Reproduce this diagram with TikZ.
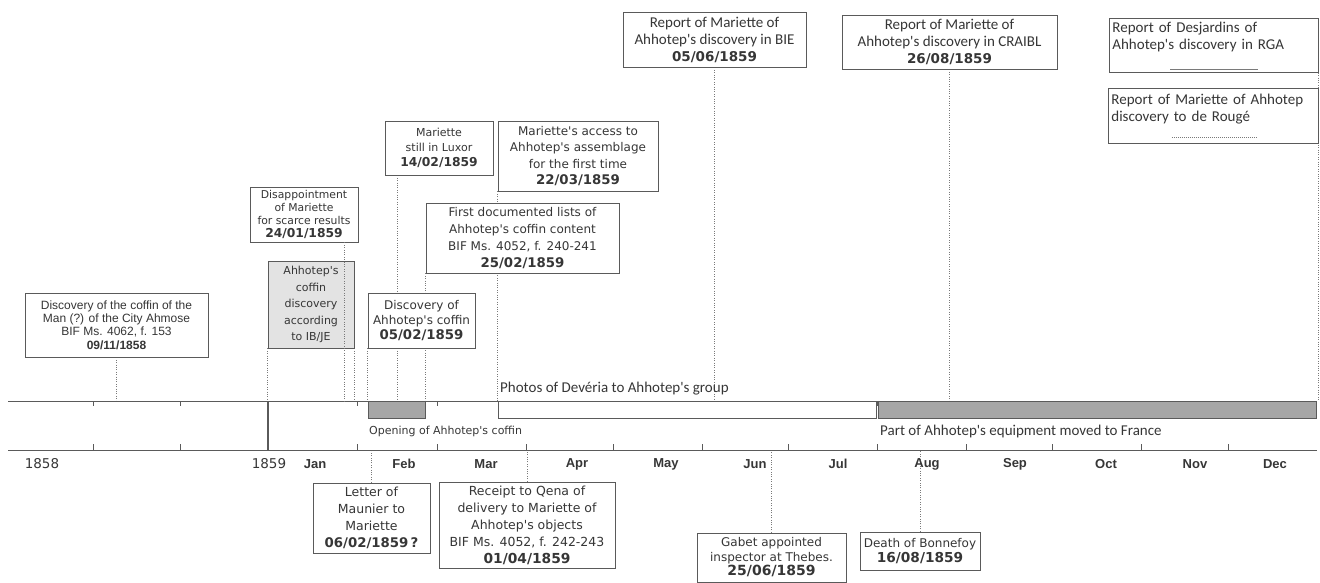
\documentclass[tikz,border=0pt]{standalone}
\usepackage{fontspec}
\setmainfont{DejaVu Sans}[Ligatures=TeXOff]
\newfontfamily\calibf{Carlito}[Ligatures=TeXOff]
\newfontfamily\arialf{Liberation Sans}
\usepackage{xcolor}
\definecolor{inkGray}{HTML}{363636}
\definecolor{lineGray}{HTML}{5A5A5A}
\definecolor{dotGray}{HTML}{7A7A7A}
\definecolor{barGray}{HTML}{A6A6A6}
\definecolor{boxFill}{HTML}{E3E3E3}
\usepackage{tikz}
\usetikzlibrary{backgrounds}
\newcommand{\evdate}[2][13.3]{{\normalfont\fontsize{#1}{#1}\selectfont\bfseries #2}}
\tikzset{
  evbox/.style={rectangle,draw=lineGray,line width=0.8pt,fill=white,text=inkGray,align=center,inner sep=1pt},
  grayevbox/.style={evbox,fill=boxFill},
  rptbox/.style={evbox,font=\calibf\fontsize{15}{17}\selectfont},
  dotline/.style={draw=dotGray,line width=0.8pt,dash pattern=on 1pt off 1.4pt},
  axisline/.style={draw=lineGray,line width=0.9pt},
  tickmark/.style={draw=lineGray,line width=0.7pt},
  bardark/.style={draw=lineGray,fill=barGray,line width=0.8pt},
  barlight/.style={draw=lineGray,fill=white,line width=0.8pt},
  barlbl/.style={anchor=west,inner sep=0pt,text=inkGray,font=\calibf\fontsize{15}{15}\selectfont},
  monthlbl/.style={text=inkGray,font=\arialf\bfseries\fontsize{13}{13}\selectfont},
  yearlbl/.style={text=inkGray,font=\fontsize{13.5}{14}\selectfont},
}

\begin{document}
\begin{tikzpicture}[x=1pt,y=-1pt]
  \useasboundingbox (0,0) rectangle (1320,583);
  \coordinate (ax) at (0,401);
  \coordinate (axl) at (0,450);
  \coordinate (d2401) at (344,401);
  \coordinate (d1402) at (397,401);

  \draw[axisline] (8,401) -- (1317,401);
  \draw[axisline] (8,450) -- (1317,450);
  \draw[axisline, line width=1.6pt] (268,401) -- (268,450);
  \foreach \x in {93,180} {%
    \draw[tickmark] (\x,401) -- ++(0,5);
    \draw[tickmark] (\x,450) -- ++(0,-6);
  }
  \foreach \dd in {31,59,90,120,151,181,212,243,273,304,334} {%
    \draw[tickmark] ({268+2.874*\dd},401) -- ++(0,5);
    \draw[tickmark] ({268+2.874*\dd},450) -- ++(0,-6);
  }

  \filldraw[bardark]  (368,401) rectangle (425,418);
  \filldraw[barlight] (498,401) rectangle (876,418);
  \filldraw[bardark]  (878,401) rectangle (1316,418);

  \node[barlbl, font=\fontsize{11}{11}\selectfont] (opening) at (369,431) {Opening of Ahhotep's coffin};
  \node[barlbl] (photos) at (500,389) {Photos of Devéria to Ahhotep's group};
  \node[barlbl] (moved) at (880,431) {Part of Ahhotep's equipment moved to France};

  \node[yearlbl] (y1858) at (42,464) {1858};
  \node[yearlbl] (y1859) at (269,464) {1859};
  \foreach \mon/\mx in {Jan/315,Feb/404,Mar/486,Apr/577,May/666,Jun/755,Jul/838,Aug/927,Sep/1015,Oct/1106,Nov/1195,Dec/1275} {%
    \node[monthlbl] (m\mon) at (\mx,464) {\mon};
  }

  \node[evbox, minimum width=183pt, minimum height=64pt, font=\arialf\fontsize{12}{13.3}\selectfont] (disc1858) at (116.5,325) {Discovery of the coffin of the\\Man (?) of the City Ahmose\\BIF Ms. 4062, f. 153\\{\bfseries 09/11/1858}};
  \node[grayevbox, minimum width=86pt, minimum height=87pt, font=\fontsize{11}{16.5}\selectfont] (ibje) at (311,304.5) {Ahhotep's\\coffin\\discovery\\according\\to IB/JE};
  \node[evbox, minimum width=108pt, minimum height=55pt, font=\fontsize{10.8}{13.3}\selectfont] (disap) at (304,214.5) {Disappointment\\of Mariette\\for scarce results\\\evdate[12.3]{24/01/1859}};
  \node[evbox, minimum width=108pt, minimum height=54pt, font=\fontsize{11}{15}\selectfont] (luxor) at (439,148) {Mariette\\still in Luxor\\\evdate[12.3]{14/02/1859}};
  \node[evbox, minimum width=107pt, minimum height=55pt, font=\fontsize{12}{15}\selectfont] (disc) at (421.5,320.5) {Discovery of\\Ahhotep's coffin\\\evdate{05/02/1859}};
  \node[evbox, minimum width=193pt, minimum height=70pt, font=\fontsize{12}{17}\selectfont] (lists) at (522.5,238) {First documented lists of\\Ahhotep's coffin content\\BIF Ms. 4052, f. 240-241\\\evdate{25/02/1859}};
  \node[evbox, minimum width=160pt, minimum height=70pt, font=\fontsize{12}{16.5}\selectfont] (access) at (578,156) {Mariette's access to\\Ahhotep's assemblage\\for the first time\\\evdate{22/03/1859}};
  \node[rptbox, minimum width=183pt, minimum height=55pt] (bie) at (714.5,39.5) {Report of Mariette of\\Ahhotep's discovery in BIE\\\evdate[13.5]{05/06/1859}};
  \node[rptbox, minimum width=215pt, minimum height=54pt] (craibl) at (949.5,42) {Report of Mariette of\\Ahhotep's discovery in CRAIBL\\\evdate[13.5]{26/08/1859}};
  \node[rptbox, anchor=north west, align=left, inner sep=3pt, text width=203pt, minimum height=54pt] (desj) at (1109,18) {Report of Desjardins of\\Ahhotep's discovery in RGA\\[3pt]\hspace*{58pt}\textcolor{dotGray}{\rule{88pt}{0.5pt}}};
  \node[rptbox, anchor=north west, align=left, inner sep=3pt, text width=204pt, minimum height=55pt] (rouge) at (1108,88) {Report of Mariette of Ahhotep\\discovery to de Rougé\\\hspace*{59pt}\textcolor{dotGray}{\leaders\hbox to 2pt{\hss\rule{1pt}{0.7pt}\hss}\hskip 88pt}};

  \node[evbox, minimum width=117pt, minimum height=70pt, font=\fontsize{12.5}{17}\selectfont] (letter) at (371.5,518) {Letter of\\Maunier to\\Mariette\\\evdate{06/02/1859\,?}};
  \node[evbox, minimum width=176pt, minimum height=86pt, font=\fontsize{12.5}{17}\selectfont] (receipt) at (527,525) {Receipt to Qena of\\delivery to Mariette of\\Ahhotep's objects\\BIF Ms. 4052, f. 242-243\\\evdate[13.8]{01/04/1859}};
  \node[evbox, minimum width=149pt, minimum height=49pt, font=\fontsize{12}{14.5}\selectfont] (gabet) at (771.5,557.5) {Gabet appointed\\inspector at Thebes.\\\evdate[14]{25/06/1859}};
  \node[evbox, minimum width=120pt, minimum height=38pt, font=\fontsize{12}{15}\selectfont] (bonne) at (920,551) {Death of Bonnefoy\\\evdate[13.7]{16/08/1859}};

  \begin{scope}[on background layer]
    \draw[dotline] (disc1858.south) -- (disc1858.south |- ax);
    \draw[dotline] (ibje.south west) -- (ibje.south west |- ax);
    \draw[dotline] (ibje.south east) -- (ibje.south east |- ax);
    \draw[dotline] (d1402 |- luxor.south) -- (d1402);
    \draw[dotline] (disc.south west) -- (disc.south west |- ax);
    \draw[dotline] (lists.south west) -- (lists.south west |- ax);
    \draw[dotline] (access.south west) -- (access.south west |- ax);
    \draw[dotline] (bie.south) -- (bie.south |- ax);
    \draw[dotline] (craibl.south) -- (craibl.south |- ax);
    \draw[dotline] (desj.south east) -- (desj.south east |- ax);
    \draw[dotline] (letter.north) -- (letter.north |- axl);
    \draw[dotline] (receipt.north) -- (receipt.north |- axl);
    \draw[dotline] (gabet.north) -- (gabet.north |- axl);
    \draw[dotline] (bonne.north) -- (bonne.north |- axl);
  \end{scope}
  \draw[dotline] (d2401 |- disap.south) -- (d2401);
\end{tikzpicture}
\end{document}
